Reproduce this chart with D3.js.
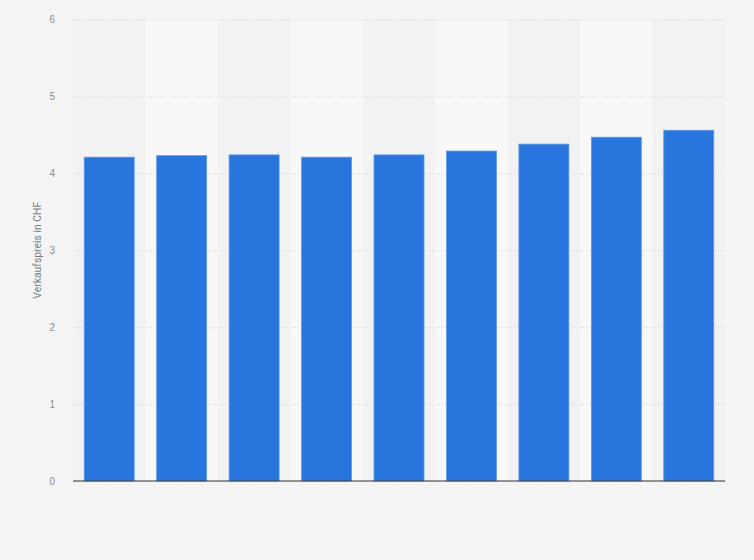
<!DOCTYPE html>
<html>
<head>
<meta charset="utf-8">
<script src="https://cdn.jsdelivr.net/npm/d3@7"></script>
<style>
  body { margin: 0; background: #f4f4f4; }
  svg { display: block; font-family: Roboto, "Noto Sans", sans-serif; }
</style>
</head>
<body>
<div class="chart"></div>
<script>
// Verkaufspreis in CHF, 9 Jahre (keine Kategorienbeschriftung sichtbar)
const categories = ["1", "2", "3", "4", "5", "6", "7", "8", "9"];
const values = [4.21, 4.23, 4.24, 4.21, 4.24, 4.29, 4.38, 4.47, 4.56];
const yTicks = [0, 1, 2, 3, 4, 5, 6];
const yLabel = "Verkaufspreis in CHF";

const width = 754, height = 560;
const margin = {top: 19.5, right: 29, bottom: 79, left: 73};

const svg = d3.select(".chart").append("svg")
    .attr("width", width)
    .attr("height", height);

svg.append("rect")
    .attr("width", width).attr("height", height)
    .attr("fill", "#f4f4f4");

const x = d3.scaleBand()
    .domain(categories)
    .range([margin.left, width - margin.right])
    .paddingInner(0.31)
    .paddingOuter(0.155);

const y = d3.scaleLinear()
    .domain([0, 6])
    .range([height - margin.bottom, margin.top]);

const step = x.step();

// alternating column stripes
svg.append("g").selectAll("rect")
    .data(categories)
    .enter().append("rect")
    .attr("x", (d, i) => margin.left + i * step)
    .attr("y", margin.top)
    .attr("width", step)
    .attr("height", y(0) - margin.top)
    .attr("fill", (d, i) => i % 2 ? "#f8f8f8" : "#f2f2f2");

// grid lines
svg.append("g")
    .attr("transform", `translate(${margin.left},0)`)
    .call(d3.axisLeft(y).tickValues(yTicks).tickSize(-(width - margin.left - margin.right)).tickFormat(""))
    .call(g => g.select(".domain").remove())
    .call(g => g.selectAll(".tick line")
        .attr("stroke", "#cfcfcf")
        .attr("stroke-dasharray", "1,2"));

// tick labels
svg.append("g")
    .attr("transform", `translate(${margin.left - 15},0)`)
    .call(d3.axisLeft(y).tickValues(yTicks).tickSize(0).tickFormat(d3.format("d")))
    .call(g => g.select(".domain").remove())
    .call(g => g.selectAll("text")
        .attr("fill", "#8c8c8c")
        .attr("font-size", 10)
        .attr("dx", 0));

// bars
svg.append("g").selectAll(".bar")
    .data(values)
    .enter().append("rect")
    .attr("class", "bar")
    .attr("x", (d, i) => x(categories[i]))
    .attr("y", d => y(d))
    .attr("width", x.bandwidth())
    .attr("height", d => y(0) - y(d))
    .attr("fill", "#2876dd")
    .attr("stroke", "#5d9ae8")
    .attr("stroke-width", 0.8);

// baseline
svg.append("line")
    .attr("x1", margin.left).attr("x2", width - margin.right)
    .attr("y1", y(0)).attr("y2", y(0))
    .attr("stroke", "#333")
    .attr("stroke-width", 1.2);

// y axis title
svg.append("text")
    .attr("transform", `translate(41,${(margin.top + y(0)) / 2}) rotate(-90)`)
    .attr("text-anchor", "middle")
    .attr("fill", "#7a7a7a")
    .attr("font-size", 10.4)
    .text(yLabel);
</script>
</body>
</html>
